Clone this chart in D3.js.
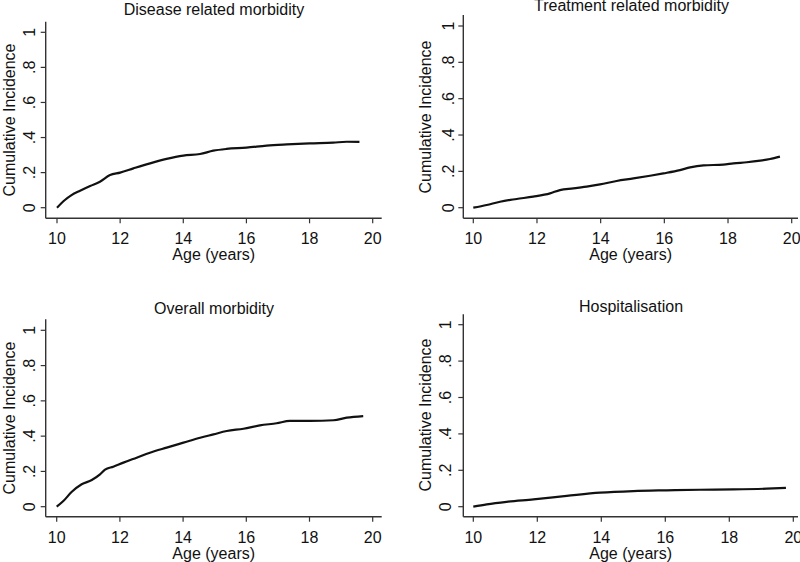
<!DOCTYPE html>
<html><head><meta charset="utf-8">
<script src="https://cdn.jsdelivr.net/npm/d3@7"></script>
<style>body{margin:0;background:#fff}svg{display:block}text{font-family:"Liberation Sans",Arial,sans-serif;fill:#111}</style>
</head><body>
<script>
// ---- data ----
const titles = ["Disease related morbidity","Treatment related morbidity","Overall morbidity","Hospitalisation"];
const xTicks = [10,12,14,16,18,20];
const yTicks = [0,0.2,0.4,0.6,0.8,1];
const yTickLabels = ["0",".2",".4",".6",".8","1"];
const xTitle = "Age (years)";
const yTitle = "Cumulative Incidence";

const diseaseAge = [10,10.25,10.46,10.73,11.05,11.36,11.68,12.0,12.42,12.95,13.47,14.0,14.53,14.95,15.37,16.0,16.64,17.28,18.0,18.75,19.18,19.58];
const diseaseCI  = [0,0.044,0.072,0.097,0.124,0.148,0.186,0.2,0.224,0.253,0.278,0.297,0.306,0.325,0.335,0.342,0.354,0.361,0.367,0.371,0.376,0.375];

const treatAge = [10,10.42,10.84,11.36,11.88,12.41,12.72,13.14,13.56,13.98,14.5,15.03,15.55,15.97,16.49,16.81,17.23,17.85,18.17,18.59,19.01,19.32,19.63];
const treatCI  = [0,0.015,0.033,0.048,0.061,0.079,0.097,0.106,0.116,0.128,0.147,0.161,0.176,0.189,0.207,0.222,0.233,0.237,0.244,0.25,0.259,0.268,0.281];

const overallAge = [10,10.21,10.47,10.79,11.11,11.37,11.53,11.79,12.11,12.53,12.95,13.48,14.01,14.54,14.96,15.38,15.91,16.43,16.96,17.38,18.02,18.76,19.18,19.7];
const overallCI  = [0,0.032,0.083,0.127,0.151,0.183,0.21,0.227,0.25,0.278,0.306,0.335,0.363,0.391,0.41,0.429,0.442,0.461,0.473,0.486,0.486,0.49,0.505,0.514];

const hospAge = [10,10.42,11.04,11.88,12.92,13.96,15.0,16.04,17.08,18.13,19.17,19.77];
const hospCI  = [0,0.013,0.027,0.04,0.059,0.077,0.086,0.09,0.093,0.095,0.099,0.103];

const seriesAges = [diseaseAge, treatAge, overallAge, hospAge];
const seriesCIs  = [diseaseCI, treatCI, overallCI, hospCI];

// ---- layout (pixels) ----
const layout = [
  {x0:57,   x1:372.7, y0:207.7, y1:32.3,  ax:45.7,  ay:218.3, axTop:21.7,  axRight:381.7, titleX:214, titleY:15,  ytX:15,  ytY:120, ylOff:17},
  {x0:473.3,x1:791.7, y0:207.7, y1:26,    ax:463.3, ay:218.3, axTop:15,    axRight:798,   titleX:631.5,titleY:11, ytX:431, ytY:117, ylOff:15},
  {x0:56.7, x1:372.7, y0:506.7, y1:330.3, ax:45.7,  ay:516.7, axTop:319.3, axRight:381.7, titleX:214, titleY:314, ytX:15,  ytY:418, ylOff:17},
  {x0:473.3,x1:793.3, y0:506.7, y1:324.7, ax:463.3, ay:516.7, axTop:314.3, axRight:798,   titleX:631, titleY:312, ytX:431, ytY:415, ylOff:18}
];

const svg = d3.select("body").append("svg").attr("width",800).attr("height",562);

layout.forEach((L,i)=>{
  const x = d3.scaleLinear().domain([10,20]).range([L.x0,L.x1]);
  const y = d3.scaleLinear().domain([0,1]).range([L.y0,L.y1]);
  const g = svg.append("g");

  // axis lines
  g.append("line").attr("x1",L.ax).attr("x2",L.ax).attr("y1",L.axTop).attr("y2",L.ay)
    .attr("stroke","#333").attr("stroke-width",1.4);
  g.append("line").attr("x1",L.ax).attr("x2",L.axRight).attr("y1",L.ay).attr("y2",L.ay)
    .attr("stroke","#333").attr("stroke-width",1.4);

  // x ticks
  xTicks.forEach(t=>{
    g.append("line").attr("x1",x(t)).attr("x2",x(t)).attr("y1",L.ay).attr("y2",L.ay+5)
      .attr("stroke","#333").attr("stroke-width",1.2);
    g.append("text").attr("x",x(t)).attr("y",L.ay+26).attr("text-anchor","middle")
      .attr("font-size",16).text(t);
  });
  // y ticks
  yTicks.forEach((t,k)=>{
    g.append("line").attr("x1",L.ax-5).attr("x2",L.ax).attr("y1",y(t)).attr("y2",y(t))
      .attr("stroke","#333").attr("stroke-width",1.2);
    const tx = L.ax - L.ylOff;
    g.append("text").attr("transform",`translate(${tx+6},${y(t)}) rotate(-90)`)
      .attr("text-anchor","middle").attr("font-size",16).text(yTickLabels[k]);
  });

  // titles
  g.append("text").attr("x",L.titleX).attr("y",L.titleY).attr("text-anchor","middle")
    .attr("font-size",16).text(titles[i]);
  g.append("text").attr("x",(L.ax+L.axRight)/2).attr("y",L.ay+42)
    .attr("text-anchor","middle").attr("font-size",16).text(xTitle);
  g.append("text").attr("transform",`translate(${L.ytX},${L.ytY}) rotate(-90)`)
    .attr("text-anchor","middle").attr("font-size",16).text(yTitle);

  // curve
  const pts = seriesAges[i].map((a,k)=>[a,seriesCIs[i][k]]);
  g.append("path").datum(pts)
    .attr("d",d3.line().x(d=>x(d[0])).y(d=>y(d[1])).curve(d3.curveMonotoneX))
    .attr("fill","none").attr("stroke","#111").attr("stroke-width",2.2);
});
</script>
</body></html>
